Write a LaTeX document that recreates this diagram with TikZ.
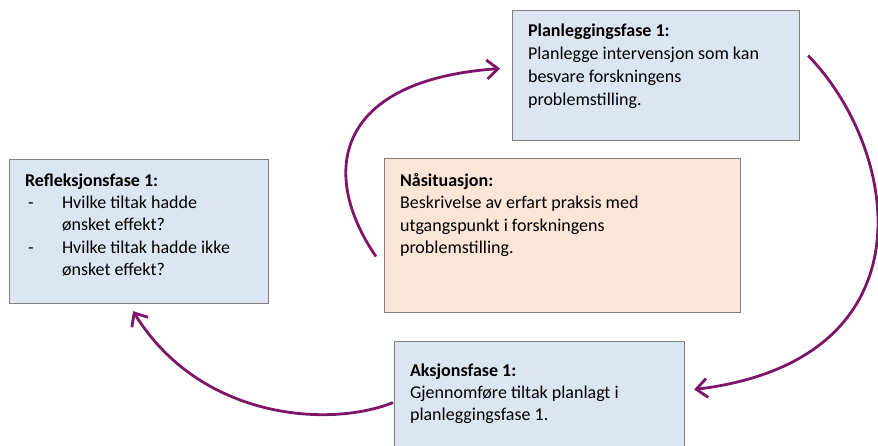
\documentclass[tikz,border=0pt]{standalone}
\usepackage{fontspec}
\setmainfont{Carlito}
\usetikzlibrary{arrows.meta}
\definecolor{phaseblue}{RGB}{220,230,242}
\definecolor{nowpeach}{RGB}{251,229,214}
\definecolor{frame}{RGB}{128,128,128}
\definecolor{cycle}{RGB}{125,22,104}
\tikzset{
  phase/.style={draw=frame, line width=1.1pt, fill=phaseblue, anchor=north west,
    inner xsep=15.5pt, inner ysep=0pt, font=\fontsize{18}{22.4}\selectfont},
  nowbox/.style={phase, fill=nowpeach},
  cyclearrow/.style={draw=cycle, line width=2.8pt,
    -{Straight Barb[length=11pt,width=19pt,line width=2.8pt]}}
}
% box text: height, width, top offset, content
\newcommand{\boxtext}[4]{\parbox[c][#1][t]{#2}{\vspace*{#3}\raggedright #4}}
\begin{document}
\begin{tikzpicture}[x=1pt,y=-1pt]
\useasboundingbox (0,0) rectangle (878,445);
\clip (0,0) rectangle (878,445);

\node[phase] (plan) at (512,10)
  {\boxtext{130pt}{256pt}{13pt}{\fontsize{18}{23.2}\selectfont
   \textbf{Planleggingsfase 1:}\\
   Planlegge intervensjon som kan\\ besvare forskningens\\ problemstilling.}};

\node[phase] (refl) at (9,159)
  {\boxtext{144pt}{228pt}{14pt}{\textbf{Refleksjonsfase 1:}\\
   \hspace*{3pt}\makebox[34pt][l]{-}Hvilke tiltak hadde\\
   \hspace*{37pt}ønsket effekt?\\
   \hspace*{3pt}\makebox[34pt][l]{-}Hvilke tiltak hadde ikke\\
   \hspace*{37pt}ønsket effekt?}};

\node[nowbox] (now) at (384,158)
  {\boxtext{154pt}{325pt}{15pt}{\textbf{Nåsituasjon:}\\
   Beskrivelse av erfart praksis med\\ utgangspunkt i forskningens\\ problemstilling.}};

\node[phase] (act) at (394,341)
  {\boxtext{120pt}{259pt}{22pt}{\textbf{Aksjonsfase 1:}\\
   Gjennomføre tiltak planlagt i\\ planleggingsfase 1.}};

% the research cycle
\draw[cyclearrow] ([xshift=-8pt,yshift=-21pt]now.west)
  .. controls (318,172) and (336,80) .. ([xshift=-12pt,yshift=7pt]plan.west);
\draw[cyclearrow] ([xshift=8pt,yshift=20pt]plan.east)
  .. controls (900,150) and (935,360) .. ([xshift=9pt,yshift=12pt]act.east);
\draw[cyclearrow] ([xshift=-1pt,yshift=-1pt]act.west)
  .. controls (330,428) and (200,420) .. ([xshift=-6pt,yshift=-7pt]refl.south);
\end{tikzpicture}
\end{document}
